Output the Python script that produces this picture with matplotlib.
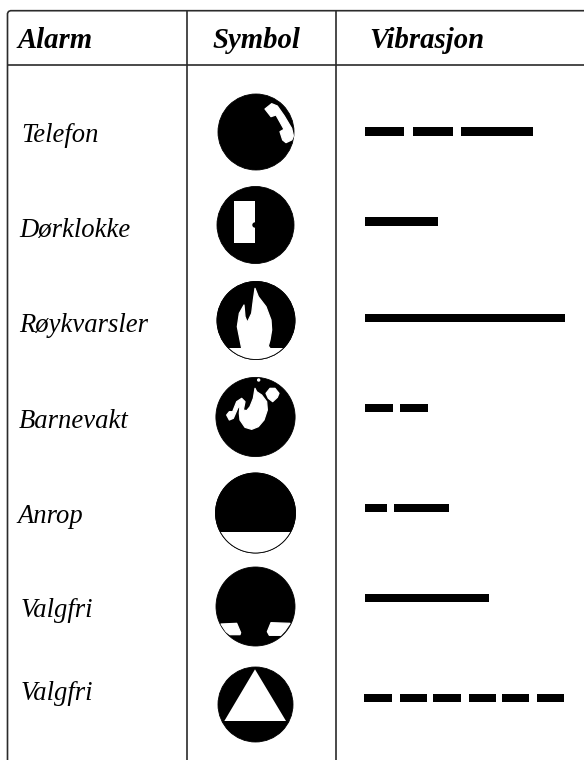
import numpy as np
import matplotlib
matplotlib.use("Agg")
import matplotlib.pyplot as plt
from matplotlib.patches import Circle, Polygon, Rectangle

headers = ["Alarm", "Symbol", "Vibrasjon"]
header_x = [17, 212, 369]
alarms = ["Telefon", "Dørklokke", "Røykvarsler", "Barnevakt", "Anrop", "Valgfri", "Valgfri"]
alarm_x = [21.5, 19, 19, 19, 17, 21, 21]
alarm_base = [141.7, 236.7, 331.7, 428, 523, 617, 700.5]

# circles: centre x, centre y, radius
circ_x = [256, 255.5, 256, 255.5, 255.5, 255.5, 255.5]
circ_y = [132, 225, 320.5, 417, 513, 606.5, 704.5]
circ_r = [38, 38.5, 39, 39.6, 40, 39.5, 37.5]

# vibration patterns, (start, length) of each pulse, y is centre of the row
vib_y = [131.5, 221.5, 318, 408, 508, 598, 698]
vib_segs = [
    [(365, 39), (413, 40), (461, 72)],
    [(365, 73)],
    [(365, 200)],
    [(365, 28), (400, 28)],
    [(365, 22), (394, 55)],
    [(365, 124)],
    [(364, 28), (400, 27), (433, 28), (469, 27), (502, 27), (537, 27)],
]

# icon outlines, pixel positions
phone = [(225, 57), (245, 41), (262, 48), (283, 78), (305, 115), (311, 140), (305, 150),
         (288, 158), (278, 150), (270, 125), (282, 118), (258, 75), (243, 80)]
flame = [(155, 775), (150, 750), (142, 710), (148, 670), (162, 645), (165, 680), (172, 697),
         (185, 670), (190, 630), (195, 595), (205, 620), (228, 650), (243, 690), (245, 720),
         (240, 750), (235, 768), (240, 775)]
blob = [(228, 70), (240, 55), (255, 55), (267, 70), (262, 82), (248, 95), (235, 85)]
swirl = [(195, 55), (190, 85), (180, 110), (170, 122), (160, 120), (165, 95), (155, 85),
         (140, 95), (128, 125), (118, 125), (110, 135), (118, 150), (130, 145), (143, 115),
         (150, 105), (148, 130), (150, 150), (165, 172), (185, 178), (205, 170), (222, 150),
         (232, 120), (230, 95), (215, 75), (200, 65)]
foot_l = [(93, 762), (140, 760), (152, 788), (150, 794), (120, 794), (108, 785)]
foot_r = [(300, 760), (243, 758), (232, 785), (238, 796), (272, 796), (285, 782)]
triangle = [(195, 898), (288, 1053), (103, 1053)]


def crop1(pts):
    return [(190 + x / 3, 90 + y / 3) for x, y in pts]


def crop2(pts):
    return [(190 + x / 3, 370 + y / 3) for x, y in pts]


plt.rcParams['font.family'] = ['Liberation Serif', 'DejaVu Serif']

fig = plt.figure(figsize=(5.84, 7.6), dpi=100)
ax = fig.add_axes([0, 0, 1, 1])
ax.set_xlim(0, 584)
ax.set_ylim(760, 0)
ax.axis('off')

# table lines
line_col = '#2b2b2b'
ax.plot([7.5, 7.5, 8.5, 10.5, 584], [760, 13.5, 11.5, 10.7, 10.7], color=line_col, lw=1.2)
ax.plot([7.5, 584], [64.5, 64.5], color=line_col, lw=1.2)
ax.plot([186.7, 186.7], [10.7, 760], color=line_col, lw=1.2)
ax.plot([336, 336], [10.7, 760], color=line_col, lw=1.2)

for h, x in zip(headers, header_x):
    ax.text(x, 47.5, h, fontsize=20.7, style='italic', weight='bold', va='baseline', color='k')

for name, x, y in zip(alarms, alarm_x, alarm_base):
    ax.text(x, y, name, fontsize=19.2, style='italic', va='baseline', color='k')

for y, segs in zip(vib_y, vib_segs):
    ax.broken_barh(segs, (y - 4.4, 8.8), facecolors='k', edgecolor='none')


def disc(i):
    c = Circle((circ_x[i], circ_y[i]), circ_r[i], fc='k', ec='k', lw=0.6)
    ax.add_patch(c)
    return c


def white(pts, clip=None, edge=0.9):
    # a thin white edge with round joins softens the polygon corners
    p = Polygon(pts, closed=True, fc='white', ec='white', lw=edge, joinstyle='round')
    ax.add_patch(p)
    if clip is not None:
        p.set_clip_path(clip)
    return p


# telefon
white(crop1(phone), disc(0))

# dorklokke
disc(1)
ax.add_patch(Rectangle((233.7, 201), 21.3, 42.3, fc='white', ec='none'))
ax.add_patch(Circle((255, 225), 2.7, fc='k', ec='none'))

# roykvarsler, white below the chord
c = disc(2)
ax.add_patch(Rectangle((210, 348.3), 90, 20, fc='white', ec='none', clip_path=c))
ax.add_patch(Circle((circ_x[2], circ_y[2]), circ_r[2], fc='none', ec='k', lw=0.6))
white(crop1(flame))

# barnevakt
c = disc(3)
white(crop2(blob), c)
white(crop2(swirl), c)
ax.add_patch(Circle((190 + 206 / 3, 370 + 30 / 3), 1.7, fc='white', ec='none'))

# anrop
c = disc(4)
ax.add_patch(Rectangle((210, 531.7), 90, 30, fc='white', ec='none', clip_path=c))
ax.add_patch(Circle((circ_x[4], circ_y[4]), circ_r[4], fc='none', ec='k', lw=0.6))

# valgfri
c = disc(5)
white(crop2(foot_l), c)
white(crop2(foot_r), c)

# valgfri, triangle
c = disc(6)
white(crop2(triangle), c, edge=0)

fig.savefig('out.png', dpi=100)
